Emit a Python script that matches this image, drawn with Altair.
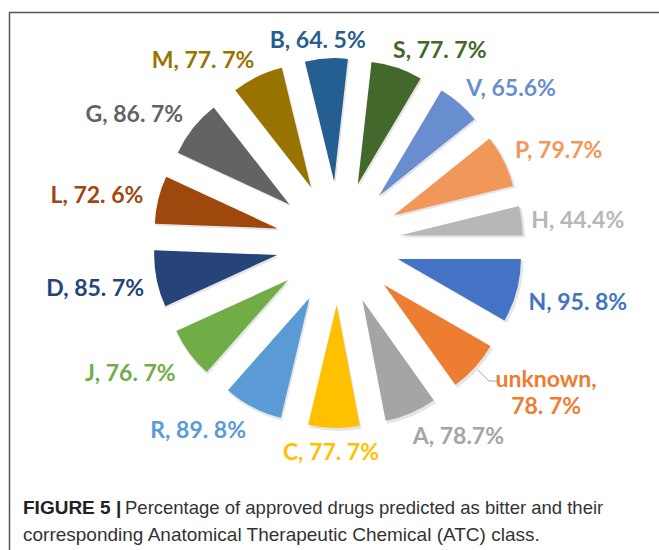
import math
import numpy as np
import pandas as pd
import altair as alt

# ATC classes in slice order (first slice starts at 3 o'clock, clockwise)
classes = ["N", "unknown", "A", "C", "R", "J", "D", "L", "G", "M", "B", "S", "V", "P", "H"]
percent = [95.8, 78.7, 78.7, 77.7, 89.8, 76.7, 85.7, 72.6, 86.7, 77.7, 64.5, 77.7, 65.6, 79.7, 44.4]
labels = ["N, 95. 8%", "unknown,\n78. 7%", "A, 78.7%", "C, 77. 7%", "R, 89. 8%",
          "J, 76. 7%", "D, 85. 7%", "L, 72. 6%", "G, 86. 7%", "M, 77. 7%",
          "B, 64. 5%", "S, 77. 7%", "V, 65.6%", "P, 79.7%", "H, 44.4%"]
colors = ["#4472C4", "#ED7D31", "#A5A5A5", "#FFC000", "#5B9BD5", "#70AD47", "#264478",
          "#9E480E", "#636363", "#997300", "#255E91", "#43682B", "#698ED0", "#F1975A", "#B7B7B7"]

caption_bold = "FIGURE 5 |"
caption_rest = "Percentage of approved drugs predicted as bitter and their"
caption_line2 = "corresponding Anatomical Therapeutic Chemical (ATC) class."

# pie geometry
W, H = 659, 550
CX, CY = 338, 243
START = math.pi / 2          # angle of first slice
EXPLODE = 62                 # how far each slice is pulled out
RADIUS = 123
LABEL_RX, LABEL_RY = 198, 195
LABEL_DY = 4
CHAR_W = 10.8
TEXT_H = 22
LINE_H = 27

vals = np.array(percent, dtype=float)
total = vals.sum()
c1 = np.cumsum(vals)
c0 = c1 - vals
mid = START + (c0 + c1) / 2 / total * 2 * math.pi
s, c = np.sin(mid), np.cos(mid)

df = pd.DataFrame({"cls": classes, "pct": vals, "label": labels, "c0": c0, "c1": c1})
df["ex"] = EXPLODE * s
df["ey"] = -EXPLODE * c
df["sx"] = df["ex"] + 1.5
df["sy"] = df["ey"] + 2.0

lines = [l.split("\n") for l in labels]
nlines = np.array([len(l) for l in lines])
width = np.array([max(len(t) for t in l) for l in lines]) * CHAR_W
lx = LABEL_RX * s + np.clip(2.5 * s, -1, 1) * width / 2
ly = -LABEL_RY * c - np.clip(2 * c, -1, 1) * TEXT_H / 2 + LABEL_DY

# labels spanning two lines sit further out, joined by a leader line
lead = []
for i in np.where(nlines > 1)[0]:
    r0 = EXPLODE + RADIUS + 4
    p0 = (r0 * s[i], -r0 * c[i])
    p1 = (p0[0] + 11, p0[1] + 11)
    p2 = (p1[0] + 8, p1[1])
    lead += [{"cls": classes[i], "k": 0, "x": p0[0], "y": p0[1]},
             {"cls": classes[i], "k": 1, "x": p1[0], "y": p1[1]},
             {"cls": classes[i], "k": 2, "x": p2[0], "y": p2[1]}]
    lx[i] = p2[0] + 6 + width[i] / 2
    ly[i] = p2[1] - 1
df["lx"] = lx
df["ly"] = ly
df["lines"] = lines
lead_df = pd.DataFrame(lead)

xs = alt.Scale(domain=[-100, 100], range=[CX - 100, CX + 100], nice=False, zero=False)
ys = alt.Scale(domain=[-100, 100], range=[CY - 100, CY + 100], nice=False, zero=False)
ts = alt.Scale(domain=[0, total], range=[START, START + 2 * math.pi], nice=False)
cs = alt.Scale(domain=classes, range=colors)

base = alt.Chart(df)

shadow = base.mark_arc(outerRadius=RADIUS + 1, color="#000000", opacity=0.10).encode(
    theta=alt.Theta("c0:Q", scale=ts, stack=None),
    theta2="c1:Q",
    x=alt.X("sx:Q", scale=xs, axis=None),
    y=alt.Y("sy:Q", scale=ys, axis=None),
)

slices = base.mark_arc(outerRadius=RADIUS).encode(
    theta=alt.Theta("c0:Q", scale=ts, stack=None),
    theta2="c1:Q",
    x=alt.X("ex:Q", scale=xs, axis=None),
    y=alt.Y("ey:Q", scale=ys, axis=None),
    color=alt.Color("cls:N", scale=cs, legend=None),
)

text = base.mark_text(font="Lato", fontSize=23, fontWeight="bold", align="center",
                      baseline="middle", lineHeight=LINE_H).encode(
    x=alt.X("lx:Q", scale=xs, axis=None),
    y=alt.Y("ly:Q", scale=ys, axis=None),
    text="lines",
    color=alt.Color("cls:N", scale=cs, legend=None),
)

leader = alt.Chart(lead_df).mark_line(color="#A6A6A6", strokeWidth=1).encode(
    x=alt.X("x:Q", scale=xs, axis=None),
    y=alt.Y("y:Q", scale=ys, axis=None),
    order="k:O",
    detail="cls:N",
)

one = pd.DataFrame({"t": [""]})
frame = alt.Chart(one).mark_rect(filled=False, stroke="#555555", strokeWidth=1.5).encode(
    x=alt.value(9.5), x2=alt.value(720), y=alt.value(12.5), y2=alt.value(640)
)
cap1 = alt.Chart(pd.DataFrame({"t": [caption_bold]})).mark_text(
    font="Liberation Sans", fontSize=19, fontWeight="bold", align="left",
    baseline="alphabetic", color="#222222").encode(
    x=alt.value(23), y=alt.value(514), text="t:N")
cap2 = alt.Chart(pd.DataFrame({"t": [caption_rest]})).mark_text(
    font="Liberation Sans", fontSize=18.5, align="left",
    baseline="alphabetic", color="#333333").encode(
    x=alt.value(125), y=alt.value(514), text="t:N")
cap3 = alt.Chart(pd.DataFrame({"t": [caption_line2]})).mark_text(
    font="Liberation Sans", fontSize=19, align="left",
    baseline="alphabetic", color="#333333").encode(
    x=alt.value(23), y=alt.value(541), text="t:N")

chart = alt.layer(frame, shadow, slices, leader, text, cap1, cap2, cap3).properties(
    width=W, height=H, padding=0, autosize=alt.AutoSizeParams(type="none"),
    background="white",
).configure_view(stroke=None)

chart.save("out.html", embed_options={"renderer": "svg", "actions": False})
